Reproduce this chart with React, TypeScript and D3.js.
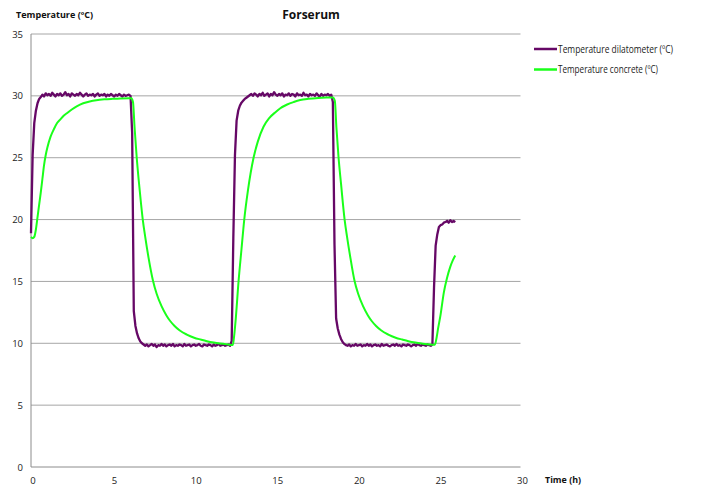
import React from "react";
import * as d3 from "d3";

const TITLE = "Forserum";
const Y_LABEL = "Temperature (ºC)";
const X_LABEL = "Time (h)";
const SERIES_NAMES = ["Temperature dilatometer (ºC)", "Temperature concrete (ºC)"];
const X_TICKS = [0, 5, 10, 15, 20, 25, 30];
const Y_TICKS = [0, 5, 10, 15, 20, 25, 30, 35];

// dilatometer: sampled every 0.1 h from t = 0
const SAMPLE_STEP = 0.1;
const dilatometerValues = [
  18.9, 25.2, 27.8, 28.8, 29.4, 29.75, 29.9, 30.1, 29.95, 30.2,
  30.05, 30.15, 30.0, 30.25, 30.1, 29.95, 30.15, 30.05, 30.2, 30.0,
  30.1, 30.3, 30.05, 30.15, 29.95, 30.2, 30.1, 30.0, 30.15, 30.05,
  30.25, 30.1, 29.95, 30.1, 30.2, 30.0, 30.1, 30.05, 30.15, 29.95,
  30.1, 30.2, 30.0, 30.1, 30.05, 30.15, 29.95, 30.1, 30.0, 30.15,
  30.05, 29.95, 30.1, 30.0, 30.15, 30.05, 29.95, 30.1, 30.0, 30.05,
  30.1, 30.0, 27.0, 12.6, 11.4, 10.8, 10.4, 10.15, 10.0, 9.9,
  9.8, 9.9, 9.75, 9.85, 9.95, 9.8, 9.9, 9.7, 9.85, 9.8,
  9.95, 9.8, 9.9, 9.75, 9.85, 9.9, 9.8, 9.95, 9.75, 9.85,
  9.8, 9.9, 9.85, 9.75, 9.95, 9.8, 9.85, 9.9, 9.75, 9.85,
  9.9, 9.8, 9.85, 9.95, 9.8, 9.75, 9.9, 9.85, 9.8, 9.9,
  9.85, 9.75, 9.9, 9.8, 9.85, 9.95, 9.8, 9.85, 9.9, 9.8,
  9.85, 9.9, 9.8, 10.2, 18.5, 25.2, 28.0, 28.8, 29.2, 29.45,
  29.6, 29.75, 29.85, 29.95, 30.05, 30.15, 30.0, 30.2, 30.1, 29.95,
  30.15, 30.05, 30.25, 30.0, 30.1, 30.2, 29.95, 30.15, 30.05, 30.3,
  30.1, 30.0, 30.15, 30.05, 30.2, 29.95, 30.1, 30.05, 30.2, 30.0,
  30.15, 30.1, 29.95, 30.2, 30.05, 30.1, 30.0, 30.25, 30.05, 30.1,
  29.95, 30.15, 30.05, 30.1, 30.0, 30.2, 30.05, 29.95, 30.15, 30.0,
  30.1, 30.05, 30.15, 30.0, 30.1, 29.5, 18.0, 12.0, 11.2, 10.7,
  10.35, 10.1, 9.95, 9.85, 9.8, 9.9, 9.75, 9.85, 9.8, 9.95,
  9.8, 9.85, 9.9, 9.75, 9.85, 9.8, 9.95, 9.8, 9.9, 9.75,
  9.85, 9.9, 9.8, 9.85, 9.75, 9.95, 9.8, 9.85, 9.9, 9.8,
  9.75, 9.85, 9.9, 9.8, 9.95, 9.8, 9.85, 9.75, 9.9, 9.85,
  9.8, 9.9, 9.85, 9.75, 9.85, 9.9, 9.8, 9.95, 9.85, 9.8,
  9.9, 9.85, 9.8, 9.9, 9.85, 9.8, 9.9, 14.5, 17.9, 18.8,
  19.4, 19.55, 19.6, 19.75, 19.8, 19.9, 19.75, 19.95, 19.8, 19.9,
  19.8,
];

// concrete: [time (h), temperature]
const concretePoints: [number, number][] = [
  [0, 18.6], [0.1, 18.5], [0.2, 18.6], [0.3, 19.2], [0.4, 20.2], [0.5, 21.2],
  [0.6, 22.2], [0.7, 23.3], [0.8, 24.4], [0.9, 25.2], [1.0, 25.8], [1.2, 26.7],
  [1.4, 27.3], [1.6, 27.8], [1.8, 28.1], [2.0, 28.4], [2.2, 28.6], [2.5, 28.9],
  [2.8, 29.15], [3.2, 29.4], [3.6, 29.55], [4.0, 29.65], [4.5, 29.72], [5.0, 29.76],
  [5.5, 29.79], [6.0, 29.8], [6.15, 29.8], [6.25, 29.5], [6.35, 27.4], [6.48, 25.0],
  [6.6, 23.2], [6.75, 21.2], [6.85, 20.0], [7.0, 18.6], [7.2, 16.95], [7.47, 15.1],
  [7.7, 14.0], [8.0, 13.0], [8.3, 12.25], [8.53, 11.8], [8.8, 11.4], [9.1, 11.05],
  [9.55, 10.7], [10.0, 10.45], [10.4, 10.3], [10.78, 10.17], [11.2, 10.06], [11.6, 9.98],
  [12.1, 9.9], [12.37, 9.86], [12.45, 10.6], [12.55, 12.0], [12.72, 15.0], [12.9, 17.6],
  [13.07, 20.0], [13.3, 22.4], [13.64, 25.0], [13.9, 26.3], [14.25, 27.5], [14.6, 28.2],
  [15.0, 28.7], [15.28, 29.0], [15.7, 29.3], [16.1, 29.5], [16.5, 29.66], [17.0, 29.76],
  [17.6, 29.83], [18.1, 29.86], [18.5, 29.87], [18.62, 29.6], [18.72, 27.4], [18.85, 25.0],
  [19.0, 22.9], [19.22, 20.0], [19.37, 18.6], [19.57, 16.95], [19.82, 15.1], [20.05, 14.0],
  [20.35, 13.0], [20.65, 12.25], [20.88, 11.8], [21.15, 11.4], [21.45, 11.05], [21.9, 10.7],
  [22.35, 10.45], [22.75, 10.3], [23.13, 10.17], [23.55, 10.06], [23.95, 9.98], [24.45, 9.9],
  [24.75, 9.88], [24.85, 10.4], [24.95, 11.2], [25.1, 12.3], [25.3, 14.1], [25.5, 15.3],
  [25.7, 16.2], [25.85, 16.7], [26.0, 17.1],
];

const W = 708;
const H = 488;
const M = { left: 31, right: 520.5, top: 34, bottom: 467 };
const PURPLE = "#660866";
const GREEN = "#1aff1a";
const FONT = "'Open Sans', 'DejaVu Sans', sans-serif";

export default function App() {
  const x = d3.scaleLinear().domain([0, 30]).range([M.left, M.right]);
  const y = d3.scaleLinear().domain([0, 35]).range([M.bottom, M.top]);

  const dilPts: [number, number][] = dilatometerValues.map((v, i) => [i * SAMPLE_STEP, v]);
  const line = d3
    .line<[number, number]>()
    .x((d) => x(d[0]))
    .y((d) => y(d[1]));
  const smooth = d3
    .line<[number, number]>()
    .x((d) => x(d[0]))
    .y((d) => y(d[1]))
    .curve(d3.curveMonotoneX);

  return (
    <svg
      width={W}
      height={H}
      style={{ position: "fixed", left: 0, top: 0, background: "#fff" }}
      fontFamily={FONT}
    >
      <rect width={W} height={H} fill="#fff" />
      {Y_TICKS.map((t) => (
        <g key={"y" + t}>
          {t > 0 && (
            <line x1={M.left} x2={M.right} y1={y(t)} y2={y(t)} stroke="#a6a6a6" strokeWidth={1} />
          )}
          <text x={23} y={y(t) + 3.5} fontSize={9.5} textAnchor="end" fill="#222">
            {t}
          </text>
        </g>
      ))}
      <line x1={M.left} x2={M.left} y1={M.top} y2={M.bottom} stroke="#8c8c8c" strokeWidth={1} />
      <line x1={M.left} x2={M.right} y1={M.bottom} y2={M.bottom} stroke="#8c8c8c" strokeWidth={1} />
      {X_TICKS.map((t) => (
        <text key={"x" + t} x={x(t) + 2} y={483.5} fontSize={9.5} textAnchor="middle" fill="#222">
          {t}
        </text>
      ))}
      <path d={line(dilPts) || ""} fill="none" stroke={PURPLE} strokeWidth={2.3} strokeLinejoin="round" />
      <path d={smooth(concretePoints) || ""} fill="none" stroke={GREEN} strokeWidth={2} />

      <text x={311} y={19} fontSize={12} fontWeight="bold" textAnchor="middle" fill="#111">
        {TITLE}
      </text>
      <text x={16} y={18} fontSize={8.5} fontWeight="bold" fill="#111" textLength={77} lengthAdjust="spacingAndGlyphs">
        {Y_LABEL}
      </text>
      <text x={545} y={483} fontSize={8.5} fontWeight="bold" fill="#111" textLength={36} lengthAdjust="spacingAndGlyphs">
        {X_LABEL}
      </text>

      {SERIES_NAMES.map((name, i) => (
        <g key={name}>
          <line
            x1={534}
            x2={557}
            y1={49 + i * 20.5}
            y2={49 + i * 20.5}
            stroke={i === 0 ? PURPLE : GREEN}
            strokeWidth={2.5}
          />
          <text
            x={558}
            y={52.5 + i * 20.5}
            fontSize={10.5}
            fill="#222"
            textLength={i === 0 ? 115 : 100}
            lengthAdjust="spacingAndGlyphs"
          >
            {name}
          </text>
        </g>
      ))}
    </svg>
  );
}
